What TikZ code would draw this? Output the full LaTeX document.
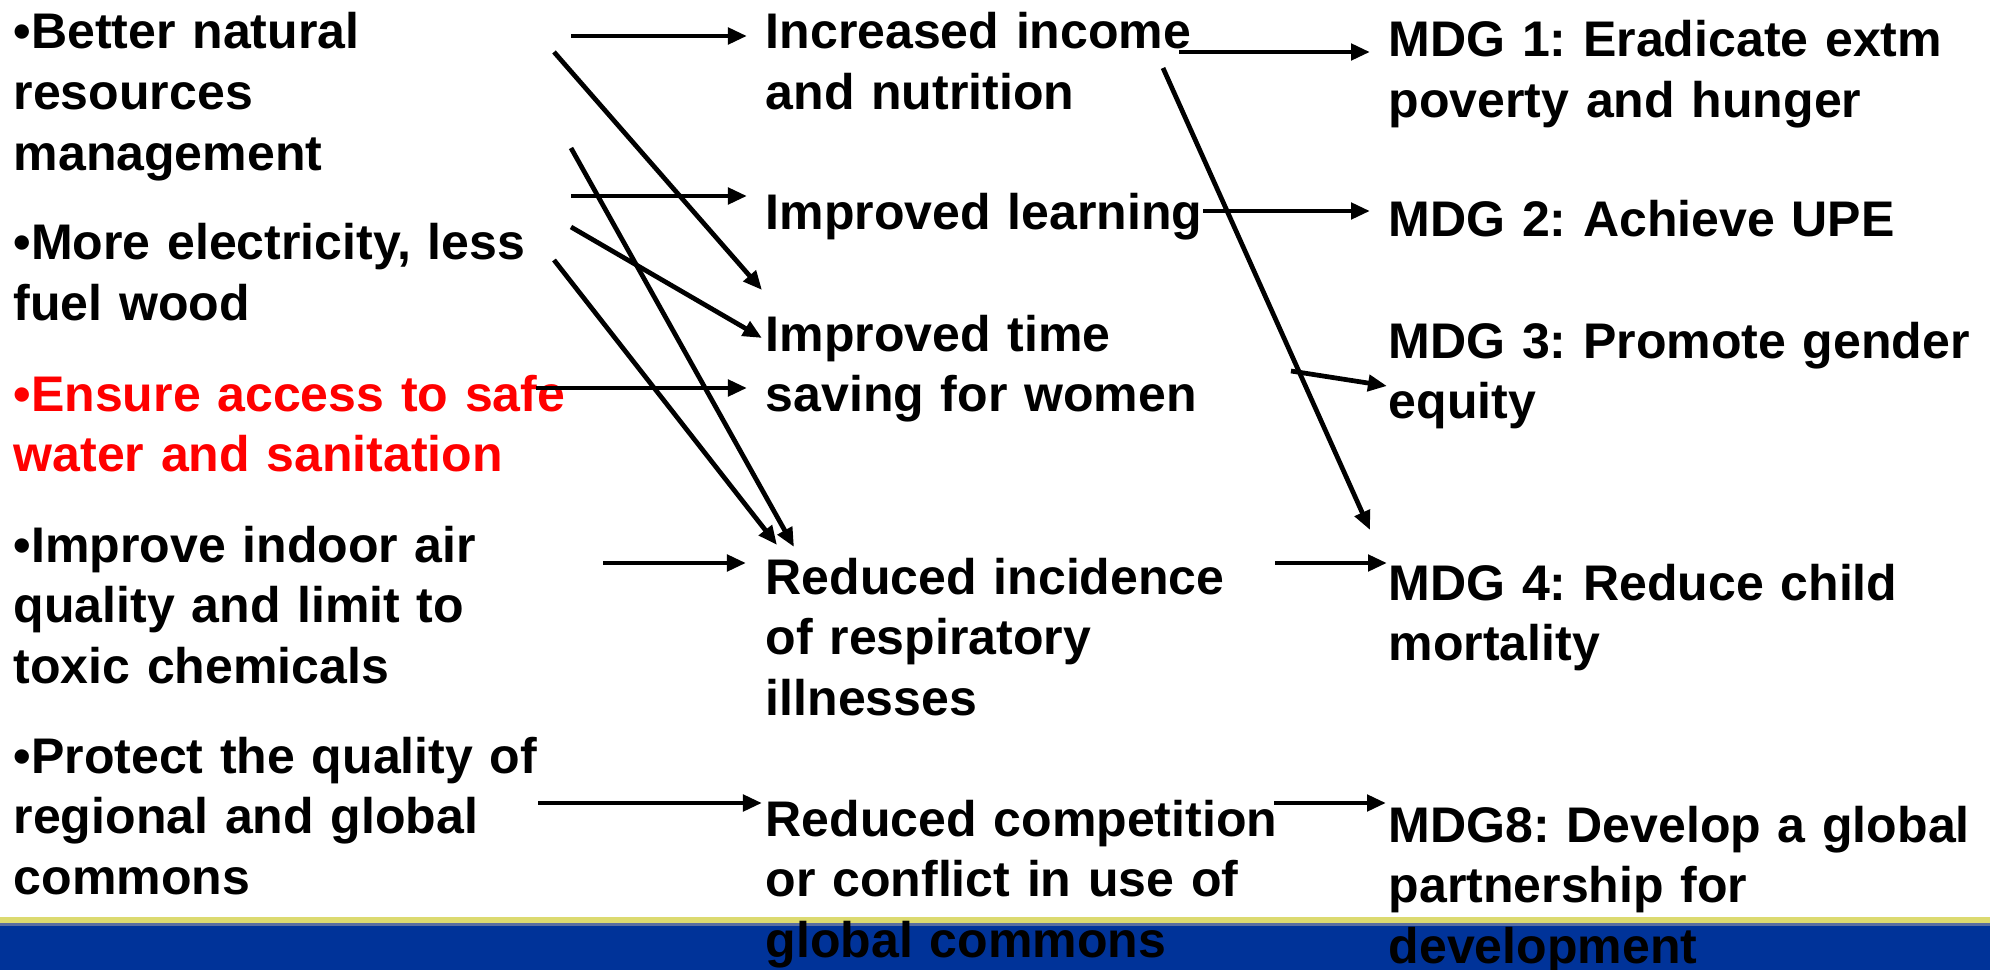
\documentclass[tikz,border=0pt]{standalone}
\usepackage{fontspec}
\setmainfont{Liberation Sans}
\usetikzlibrary{arrows.meta}
\definecolor{bandblue}{RGB}{0,51,153}
\definecolor{bandyellow}{RGB}{220,218,112}
\definecolor{bandedge}{RGB}{90,110,160}
\frenchspacing
\begin{document}
\begin{tikzpicture}[x=0.01cm, y=-0.01cm,
    txt/.style={anchor=base west, inner sep=0pt, text width=6cm, align=left,
        font=\fontsize{14.23pt}{17.21pt}\selectfont\bfseries},
    linkarrow/.style={-{Triangle[length=0.19cm, width=0.16cm]}, line width=1.35pt}]
    \useasboundingbox (0,0) rectangle (1990,970);

    % Bottom band
    \fill[bandyellow] (0,917) rectangle (1990,923);
    \fill[bandedge] (0,923) rectangle (1990,926);
    \fill[bandblue] (0,926) rectangle (1990,970);

    % Interventions
    \node[txt] (nrm) at (13,49) {•Better natural\\resources\\management};
    \node[txt] (ele) at (13,260) {•More electricity, less\\fuel wood};
    \node[txt, text=red] (wat) at (13,411) {•Ensure access to safe\\water and sanitation};
    \node[txt] (air) at (13,562) {•Improve indoor air\\quality and limit to\\toxic chemicals};
    \node[txt] (com) at (13,773) {•Protect the quality of\\regional and global\\commons};

    % Outcomes
    \node[txt] (inc) at (765,49) {Increased income\\and nutrition};
    \node[txt] (lrn) at (765,230) {Improved learning};
    \node[txt] (tim) at (765,351) {Improved time\\saving for women};
    \node[txt] (res) at (765,594) {Reduced incidence\\of respiratory\\illnesses};
    \node[txt] (cmp) at (765,836) {Reduced competition\\or conflict in use of\\global commons};

    % Goals
    \node[txt] (mdg1) at (1388,57) {MDG 1: Eradicate extm\\poverty and hunger};
    \node[txt] (mdg2) at (1388,237) {MDG 2: Achieve UPE};
    \node[txt] (mdg3) at (1388,358) {MDG 3: Promote gender\\equity};
    \node[txt] (mdg4) at (1388,600) {MDG 4: Reduce child\\mortality};
    \node[txt] (mdg8) at (1388,842) {MDG8: Develop a global\\partnership for\\development};

    % Arrow ends, left to middle
    \coordinate (nrm-o1) at (571,36);  \coordinate (inc-i1) at (747,36);
    \coordinate (nrm-o2) at (554,52);  \coordinate (tim-i1) at (762,290);
    \coordinate (nrm-o3) at (571,196); \coordinate (lrn-i1) at (747,196);
    \coordinate (nrm-o4) at (571,148); \coordinate (res-i2) at (794,547);
    \coordinate (ele-o1) at (571,227); \coordinate (tim-i2) at (762,338);
    \coordinate (ele-o2) at (554,260); \coordinate (res-i1) at (777,545);
    \coordinate (wat-o1) at (536,388); \coordinate (tim-i3) at (747,388);
    \coordinate (air-o1) at (603,563); \coordinate (res-i3) at (746,563);
    \coordinate (com-o1) at (538,803); \coordinate (cmp-i1) at (762,803);

    % Arrow ends, middle to right
    \coordinate (inc-o1) at (1179,52);  \coordinate (mdg1-i) at (1370,52);
    \coordinate (inc-o2) at (1163,68);  \coordinate (mdg4-i1) at (1370,530);
    \coordinate (lrn-o1) at (1203,211); \coordinate (mdg2-i) at (1370,211);
    \coordinate (tim-o1) at (1291,371); \coordinate (mdg3-i) at (1387,386);
    \coordinate (res-o1) at (1275,563); \coordinate (mdg4-i2) at (1387,563);
    \coordinate (cmp-o1) at (1274,803); \coordinate (mdg8-i) at (1386,803);

    % Links
    \draw[linkarrow] (nrm-o1) -- (inc-i1);
    \draw[linkarrow] (nrm-o2) -- (tim-i1);
    \draw[linkarrow] (nrm-o3) -- (lrn-i1);
    \draw[linkarrow] (nrm-o4) -- (res-i2);
    \draw[linkarrow] (ele-o1) -- (tim-i2);
    \draw[linkarrow] (ele-o2) -- (res-i1);
    \draw[linkarrow] (wat-o1) -- (tim-i3);
    \draw[linkarrow] (air-o1) -- (res-i3);
    \draw[linkarrow] (com-o1) -- (cmp-i1);
    \draw[linkarrow] (inc-o1) -- (mdg1-i);
    \draw[linkarrow] (inc-o2) -- (mdg4-i1);
    \draw[linkarrow] (lrn-o1) -- (mdg2-i);
    \draw[linkarrow] (tim-o1) -- (mdg3-i);
    \draw[linkarrow] (res-o1) -- (mdg4-i2);
    \draw[linkarrow] (cmp-o1) -- (mdg8-i);
\end{tikzpicture}
\end{document}
